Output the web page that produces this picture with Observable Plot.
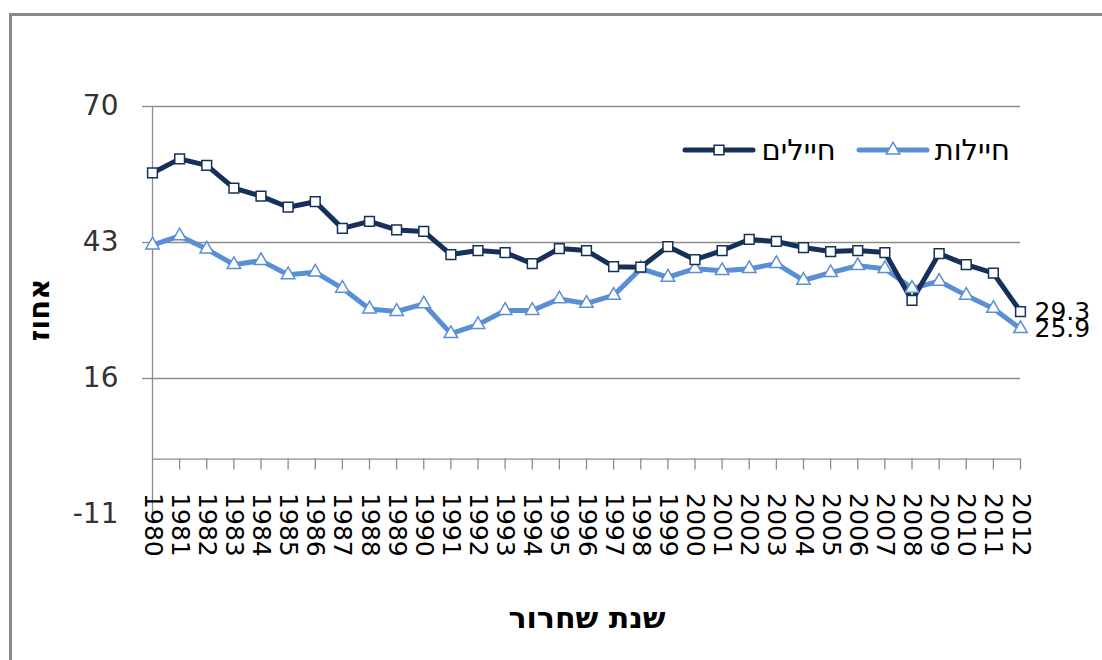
<!DOCTYPE html>
<html>
<head>
<meta charset="utf-8">
<script src="https://cdn.jsdelivr.net/npm/d3@7"></script>
<script src="https://cdn.jsdelivr.net/npm/@observablehq/plot@0.6"></script>
<style>
  html, body { margin: 0; padding: 0; background: #fff; }
  #wrap { position: relative; width: 1102px; height: 660px; overflow: hidden; font-family: "DejaVu Sans", sans-serif; }
  #frame { position: absolute; left: 9px; top: 13px; right: -10px; bottom: -10px; border-top: 3px solid #8a8a8a; border-left: 3px solid #8a8a8a; }
  #legend { position: absolute; top: 133px; right: 92px; display: flex; direction: ltr; align-items: center; gap: 20px; font-size: 29px; color: #000; }
  .item { display: flex; align-items: center; gap: 5px; }
  #ytitle { position: absolute; left: 39px; top: 310px; transform: translate(-50%, -50%) rotate(-90deg); font-weight: bold; font-size: 29px; white-space: nowrap; }
  #xtitle { position: absolute; left: 587px; top: 617px; transform: translate(-50%, -50%); font-weight: bold; font-size: 30px; white-space: nowrap; }
  #chart { position: absolute; left: 0; top: 0; }
</style>
</head>
<body>
<div id="wrap">
  <div id="frame"></div>
  <div id="chart"></div>
  <div id="legend"></div>
  <div id="ytitle" dir="rtl"></div>
  <div id="xtitle" dir="rtl"></div>
</div>
<script>
const years = [1980,1981,1982,1983,1984,1985,1986,1987,1988,1989,1990,1991,1992,1993,1994,1995,1996,1997,1998,1999,2000,2001,2002,2003,2004,2005,2006,2007,2008,2009,2010,2011,2012];
const male = [56.8,59.6,58.3,53.8,52.2,50.0,51.1,45.8,47.2,45.5,45.2,40.6,41.4,41.0,38.8,41.8,41.4,38.2,38.1,42.2,39.6,41.4,43.6,43.2,42.0,41.2,41.4,41.0,31.5,40.8,38.6,36.9,29.3];
const female = [42.5,44.3,41.7,38.6,39.4,36.6,37.1,33.9,29.8,29.3,30.8,24.9,26.7,29.5,29.5,31.8,30.9,32.5,37.8,36.1,37.8,37.4,37.8,38.8,35.5,37.0,38.4,37.8,33.9,35.3,32.5,29.9,25.9];
const seriesNames = ["חיילים", "חיילות"];
const yTicks = [70, 43, 16, -11];
const gridTicks = [70, 43, 16];
const yTitle = "אחוז";
const xTitle = "שנת שחרור";
const endLabels = ["29.3", "25.9"];

const darkColor = "#15315a";
const lightColor = "#5a8fd6";
const gray = "#8c8c8c";

const maleData = years.map((y, i) => ({year: y, value: male[i]}));
const femaleData = years.map((y, i) => ({year: y, value: female[i]}));
const ends = [
  {year: years[years.length - 1], value: male[male.length - 1], label: endLabels[0]},
  {year: years[years.length - 1], value: female[female.length - 1], label: endLabels[1]}
];

const chart = Plot.plot({
  width: 1102,
  height: 660,
  marginLeft: 152,
  marginRight: 82,
  marginTop: 106,
  marginBottom: 146,
  x: {type: "linear", domain: [years[0], years[years.length - 1]], axis: null},
  y: {domain: [-11, 70], axis: null},
  style: {fontFamily: "DejaVu Sans, sans-serif", background: "transparent"},
  marks: [
    Plot.ruleY(gridTicks, {stroke: gray, strokeWidth: 1.3}),
    Plot.axisY({ticks: gridTicks, tickSize: 10, tickFormat: () => "", label: null, stroke: gray, strokeWidth: 1.3}),
    Plot.axisY({ticks: yTicks, tickSize: 0, tickPadding: 34, fontSize: 28, fill: "#333", label: null, tickFormat: d => String(d)}),
    Plot.ruleX([years[0]], {y1: -11, y2: 70, stroke: gray, strokeWidth: 1.3}),
    Plot.ruleY([0], {stroke: gray, strokeWidth: 1.3}),
    Plot.ruleX(years.slice(1), {x: d => d, y1: 0, y2: 0, insetBottom: -11, stroke: gray, strokeWidth: 1.3}),
    Plot.text(years, {x: d => d, y: 0, text: d => String(d), rotate: 90, textAnchor: "start", lineAnchor: "middle", dy: 34, fontSize: 25, fill: "#000"}),
    Plot.line(femaleData, {x: "year", y: "value", stroke: lightColor, strokeWidth: 5, strokeLinejoin: "round"}),
    Plot.line(maleData, {x: "year", y: "value", stroke: darkColor, strokeWidth: 5, strokeLinejoin: "round"}),
    Plot.dot(femaleData, {x: "year", y: "value", symbol: "triangle", r: 5, fill: "white", stroke: lightColor, strokeWidth: 1.5}),
    Plot.dot(maleData, {x: "year", y: "value", symbol: "square", r: 5.5, fill: "white", stroke: darkColor, strokeWidth: 1.5}),
    Plot.text(ends, {x: "year", y: "value", text: "label", textAnchor: "start", dx: 14, fontSize: 25, fill: "#000"})
  ]
});
document.getElementById("chart").appendChild(chart);

// legend
const legend = document.getElementById("legend");
const items = [
  {name: seriesNames[0], color: darkColor, symbol: d3.symbolSquare, size: Math.PI * 5.5 * 5.5},
  {name: seriesNames[1], color: lightColor, symbol: d3.symbolTriangle, size: Math.PI * 5 * 5}
];
for (const it of items) {
  const div = document.createElement("div");
  div.className = "item";
  const svg = d3.create("svg").attr("width", 74).attr("height", 20);
  svg.append("line").attr("x1", 3).attr("x2", 71).attr("y1", 10).attr("y2", 10)
    .attr("stroke", it.color).attr("stroke-width", 5).attr("stroke-linecap", "round");
  svg.append("path").attr("d", d3.symbol(it.symbol, it.size)()).attr("transform", "translate(37,10)")
    .attr("fill", "white").attr("stroke", it.color).attr("stroke-width", 1.5);
  div.appendChild(svg.node());
  const span = document.createElement("span");
  span.dir = "rtl";
  span.textContent = it.name;
  div.appendChild(span);
  legend.appendChild(div);
}
document.getElementById("ytitle").textContent = yTitle;
document.getElementById("xtitle").textContent = xTitle;
</script>
</body>
</html>
